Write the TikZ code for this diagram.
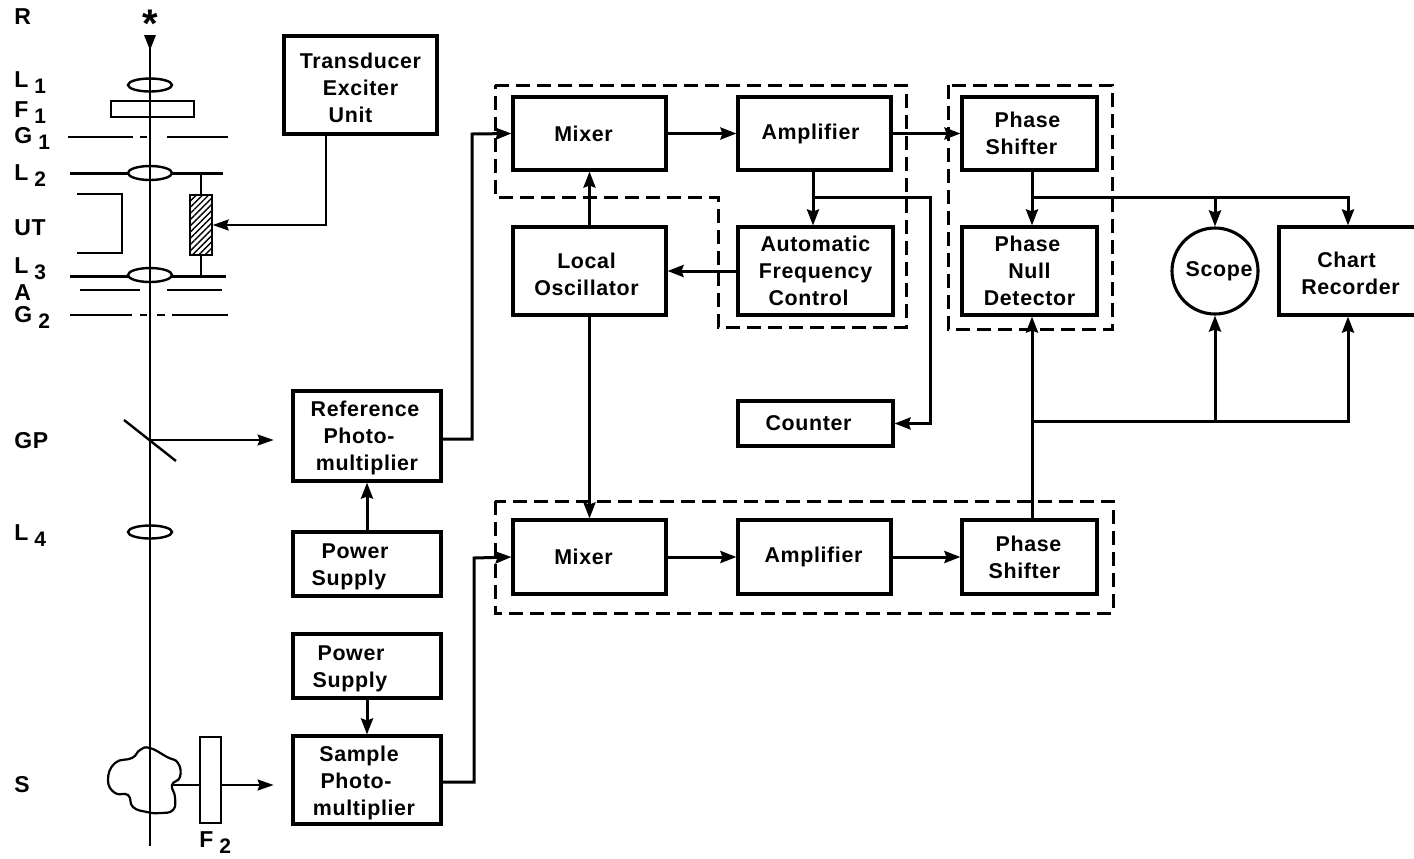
\documentclass[tikz,border=0pt]{standalone}
\usepackage{fontspec}
\setmainfont[LetterSpace=3]{Liberation Sans}
\usetikzlibrary{calc, arrows.meta, shapes.geometric, patterns.meta}
\newcommand{\sublabel}[2]{#1\hspace{3pt}\raisebox{-3pt}{\fontsize{10.5}{10.5}\selectfont\bfseries #2}}
\newcommand{\nudge}[1]{\hspace*{#1pt}}
\newcommand{\topgap}[1]{\rule{0pt}{#1pt}}
\tikzset{
    blockbox/.style 2 args={
        draw,
        line width=1.55pt,
        minimum width=#1*0.5pt,
        minimum height=#2*0.5pt,
        inner sep=0pt,
        align=center
    },
    sidelabel/.style={anchor=base west,inner sep=0pt,font=\fontsize{11.5}{14}\selectfont\bfseries},
    flow/.style={line width=1.5pt,-{Stealth[length=8pt,width=6pt,inset=1pt]}},
    thinflow/.style={line width=1pt,-{Stealth[length=8pt,width=5.5pt,inset=1pt]}},
    beam/.style={line width=1pt},
    plate/.style={line width=1.5pt},
    lens/.style={draw,ellipse,line width=1.2pt,fill=white,inner sep=0pt},
    groupline/.style={line width=1.5pt,dash pattern=on 7pt off 3.5pt}
}

\begin{document}
\begin{tikzpicture}[x=0.5pt,y=-0.5pt,font=\fontsize{10.7}{13.5}\selectfont\bfseries]
\useasboundingbox (0,0) rectangle (1414,858);

\draw[groupline] (495,85) -- (906,85) -- (906,327) -- (718,327) -- (718,197) -- (495,197) -- cycle;
\draw[groupline] (948,85) rectangle (1112,329);
\draw[groupline] (495,501) rectangle (1113,613);

\node[blockbox={153}{98}] (xdcr) at (360.5,85) {\topgap{11}Transducer\\Exciter\\Unit\nudge{10}};
\node[blockbox={148}{90}] (refpm) at (367,436) {\topgap{10}Reference\nudge{2}\\\mbox{Photo-\kern8pt}\\multiplier};
\node[blockbox={148}{64}] (pwra) at (367,564) {\topgap{10}Power\nudge{12}\\Supply\nudge{18}};
\node[blockbox={148}{64}] (pwrb) at (367,666) {\topgap{10}Power\nudge{16}\\Supply\nudge{17}};
\node[blockbox={148}{88}] (smpl) at (367,780) {\topgap{11}Sample\nudge{8}\\\mbox{Photo-\kern11pt}\\multiplier\nudge{3}};

\node[blockbox={153}{73}] (mixa) at (589.5,133.5) {Mixer\nudge{6}};
\node[blockbox={153}{73}] (ampa) at (814.5,133.5) {Amplifier\nudge{4}};
\node[blockbox={153}{88}] (osc) at (589.5,271) {\topgap{11}Local\nudge{3}\\Oscillator\nudge{3}};
\node[blockbox={155}{88}] (afc) at (815.5,271) {Automatic\\Frequency\\Control\nudge{7}};
\node[blockbox={155}{45}] (cnt) at (815.5,423.5) {Counter\nudge{7}};
\node[blockbox={135}{73}] (shfa) at (1029.5,133.5) {Phase\nudge{2}\\Shifter\nudge{8}};
\node[blockbox={135}{88}] (null) at (1029.5,271) {Phase\nudge{2}\\Null\\Detector};
\node[draw,circle,line width=1.55pt,minimum size=43pt,inner sep=0pt] (scope) at (1215,271) {\nudge{4}Scope};
\node[blockbox={143}{88}] (chart) at (1350.5,271) {\topgap{10}Chart\nudge{4}\\Recorder};
\node[blockbox={153}{74}] (mixb) at (589.5,557) {Mixer\nudge{6}};
\node[blockbox={153}{74}] (ampb) at (814.5,557) {Amplifier\nudge{1}};
\node[blockbox={135}{74}] (shfb) at (1029.5,557) {Phase\nudge{1}\\Shifter\nudge{5}};

\coordinate (busa) at (472,134);
\coordinate (busb) at (474,558);
\coordinate (tapa) at (1032,197);
\coordinate (tapb) at (1032,421);
\coordinate (tapc) at (813,197);
\coordinate (tapd) at (930,197);

\draw[flow] ([yshift=-1.5pt]refpm.east) -| (busa) -- (mixa.west);
\draw[flow] ([yshift=-1pt]smpl.east) -| (busb) -- (mixb.west);
\draw[flow] (pwra) -- (refpm);
\draw[flow] (pwrb) -- (smpl);
\draw[flow] (mixa) -- (ampa);
\draw[flow] (ampa) -- (shfa);
\draw[flow] (tapc |- ampa.south) -- (tapc |- afc.north);
\draw[flow] (tapc) -- (tapd) |- (cnt.east);
\draw[flow] (afc) -- (osc);
\draw[flow] (osc.north -| mixa) -- (mixa.south);
\draw[flow] (osc) -- (mixb);
\draw[flow] (tapa |- shfa.south) -- (tapa |- null.north);
\draw[flow] (tapa) -- ++(316,0) coordinate (tape) -- (tape |- chart.north);
\draw[flow] (tapa -| scope) -- (scope.north);
\draw[flow] (mixb) -- (ampb);
\draw[flow] (ampb) -- (shfb);
\draw[flow] (tapa |- shfb.north) -- (tapa |- null.south);
\draw[flow] (tapb) -- ++(316,0) coordinate (tapf) -- (tapf |- chart.south);
\draw[flow] (tapb -| scope) -- (scope.south);

\draw[plate] (70,173) -- (223,173);
\draw[plate] (70,276) -- (226,276);
\draw[beam] (77,194) -- (122,194) -- (122,253) -- (77,253);
\draw[beam] (80,290) -- (140,290);
\draw[beam] (167,290) -- (222,290);
\draw[beam,dash pattern=on 32.5pt off 3.5pt on 3.5pt off 10pt on 30.5pt] (68,137) -- (228,137);
\draw[beam,dash pattern=on 31pt off 4pt on 3.5pt off 5pt on 4pt off 3.5pt on 28pt] (70,315) -- (228,315);

\node[draw,line width=1pt,inner sep=0pt,minimum width=41.5pt,minimum height=8pt] (fa) at (152.5,109) {};
\node[draw,line width=1.1pt,fill=white,inner sep=0pt,minimum width=10.5pt,minimum height=43pt] (fb) at (210.5,780) {};
\node[draw,line width=1.1pt,inner sep=0pt,minimum width=11pt,minimum height=30pt,
    pattern={Lines[angle=45,distance=2.2pt,line width=0.7pt]}] (cell) at (201,225) {};
\node[lens,minimum width=22pt,minimum height=6.5pt] (la) at (150,85) {};
\node[lens,minimum width=22pt,minimum height=7pt] (lb) at (150,173) {};
\node[lens,minimum width=22pt,minimum height=7pt] (lc) at (150,275) {};
\node[lens,minimum width=22pt,minimum height=6.5pt] (ld) at (150,532) {};

\draw[beam] (cell.north) -- (cell.north |- lb);
\draw[beam] (cell.south) -- (cell.south |- lc);
\draw[thinflow] (xdcr.south -| 326,0) |- (cell.east);

\draw[line width=1.1pt] plot[smooth cycle,tension=0.8] coordinates {(150,748) (167,757) (178,763) (180,777)
    (172,785) (175,797) (173,810) (160,813) (147,812) (133,807) (128,795) (115,793)
    (108,780) (115,763) (132,758) (140,750)};

\node[font=\fontsize{20}{20}\selectfont\bfseries,inner sep=0pt] (star) at (150,24) {*};
\coordinate (axistop) at (150,36);
\coordinate (axisbot) at (150,846);
\coordinate (mirror) at (150,440);
\coordinate (cloudout) at (172,785);
\node[inner sep=0pt] (pmta) at (275,440) {};
\node[inner sep=0pt] (pmtb) at (275,785) {};
\draw[beam] (axistop) -- (axisbot);
\fill (144,35) -- (156,35) -- (150,50) -- cycle;
\draw[line width=1.2pt] (124,420) -- (176,461);
\draw[thinflow] (mirror) -- (pmta);
\draw[beam] (cloudout) -- (cloudout -| fb.west);
\draw[thinflow] (cloudout -| fb.east) -- (pmtb);

\node[sidelabel] (lblr) at (14,24) {R};
\node[sidelabel] (lblla) at (14,87) {\sublabel{L}{1}};
\node[sidelabel] (lblfa) at (14,117) {\sublabel{F}{1}};
\node[sidelabel] (lblga) at (14,143) {\sublabel{G}{1}};
\node[sidelabel] (lbllb) at (14,180) {\sublabel{L}{2}};
\node[sidelabel] (lblut) at (14,235) {UT};
\node[sidelabel] (lbllc) at (14,273) {\sublabel{L}{3}};
\node[sidelabel] (lbla) at (14,300) {A};
\node[sidelabel] (lblgb) at (14,322) {\sublabel{G}{2}};
\node[sidelabel] (lblgp) at (14,448) {GP};
\node[sidelabel] (lblld) at (14,540) {\sublabel{L}{4}};
\node[sidelabel] (lbls) at (14,792) {S};
\node[sidelabel] (lblfb) at (199,847) {\sublabel{F}{2}};
\end{tikzpicture}
\end{document}
